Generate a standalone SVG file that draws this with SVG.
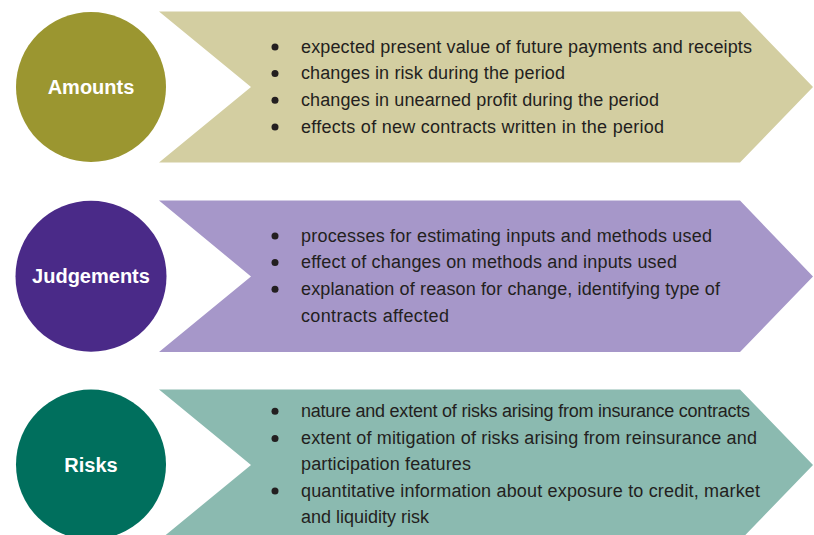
<svg xmlns="http://www.w3.org/2000/svg" width="814" height="535" viewBox="0 0 814 535">
<style>
.lbl{font-family:"Liberation Sans",Arial,sans-serif;font-weight:bold;font-size:20px;fill:#ffffff;text-anchor:middle}
.txt{font-family:"Liberation Sans",Arial,sans-serif;font-size:18px;fill:#231f20}
.dot{fill:#231f20}
</style>
<rect width="814" height="535" fill="#ffffff"/>

<g id="amounts">
<polygon points="159,11.5 740,11.5 813,87 740,162.5 159,162.5 251,87" fill="#d3cea1"/>
<circle cx="91" cy="87" r="75" fill="#9b9630"/>
<text class="lbl" x="91" y="94">Amounts</text>
<circle class="dot" cx="275" cy="47" r="3.5"/>
<circle class="dot" cx="275" cy="73.6" r="3.5"/>
<circle class="dot" cx="275" cy="100.3" r="3.5"/>
<circle class="dot" cx="275" cy="127" r="3.5"/>
<text class="txt" x="301" y="52.7" textLength="451">expected present value of future payments and receipts</text>
<text class="txt" x="301" y="79.3" textLength="264">changes in risk during the period</text>
<text class="txt" x="301" y="106" textLength="358">changes in unearned profit during the period</text>
<text class="txt" x="301" y="132.7" textLength="363">effects of new contracts written in the period</text>
</g>

<g id="judgements">
<polygon points="159,200.5 740,200.5 813,276.5 740,352 159,352 251,276.5" fill="#a697c9"/>
<circle cx="91" cy="276.3" r="75.5" fill="#4a2a88"/>
<text class="lbl" x="91" y="282.5">Judgements</text>
<circle class="dot" cx="275" cy="236" r="3.5"/>
<circle class="dot" cx="275" cy="262.6" r="3.5"/>
<circle class="dot" cx="275" cy="289.3" r="3.5"/>
<text class="txt" x="301" y="241.7" textLength="411">processes for estimating inputs and methods used</text>
<text class="txt" x="301" y="268.3" textLength="376">effect of changes on methods and inputs used</text>
<text class="txt" x="301" y="295" textLength="419">explanation of reason for change, identifying type of</text>
<text class="txt" x="301" y="321.5" textLength="148">contracts affected</text>
</g>

<g id="risks">
<polygon points="159,389.5 740,389.5 813,465 740,540.5 159,540.5 251,465" fill="#8bbab0"/>
<circle cx="91" cy="464.5" r="75" fill="#006f5d"/>
<text class="lbl" x="91" y="471.5">Risks</text>
<circle class="dot" cx="275" cy="411.3" r="3.5"/>
<circle class="dot" cx="275" cy="438.6" r="3.5"/>
<circle class="dot" cx="275" cy="491" r="3.5"/>
<text class="txt" x="301" y="417" textLength="449">nature and extent of risks arising from insurance contracts</text>
<text class="txt" x="301" y="444.3" textLength="456">extent of mitigation of risks arising from reinsurance and</text>
<text class="txt" x="301" y="470.3" textLength="170">participation features</text>
<text class="txt" x="301" y="496.7" textLength="459">quantitative information about exposure to credit, market</text>
<text class="txt" x="301" y="523.3" textLength="128">and liquidity risk</text>
</g>

<g id="connectors"></g>
</svg>
